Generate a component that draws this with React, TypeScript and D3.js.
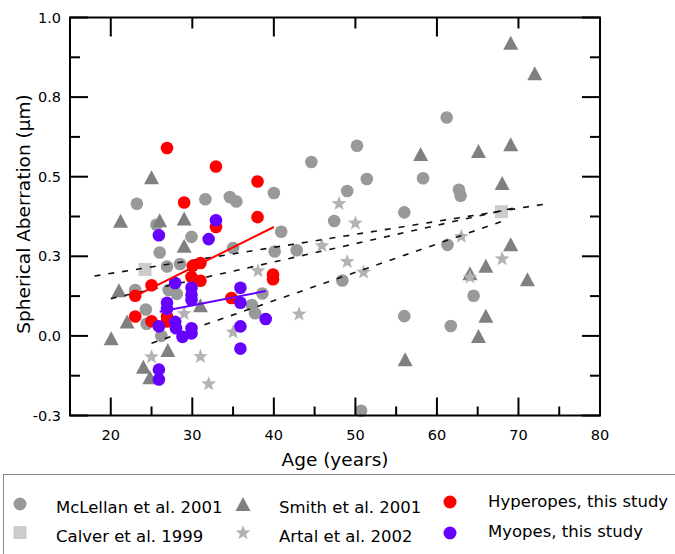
import React from "react";
import * as d3 from "d3";

type Pt = [number, number];

// Age (years), spherical aberration (µm)
const mclellan: Pt[] = [
  [23.2, 0.415], [31.6, 0.429], [34.6, 0.436], [35.4, 0.422], [40.0, 0.449], [44.6, 0.546],
  [50.2, 0.597], [51.4, 0.493], [49.0, 0.455], [58.3, 0.495], [62.7, 0.459], [62.9, 0.44],
  [61.2, 0.686], [56.0, 0.388], [47.4, 0.361], [40.9, 0.327], [40.1, 0.265], [42.8, 0.269],
  [61.3, 0.286], [48.4, 0.174], [38.6, 0.133], [64.5, 0.126], [56.0, 0.062], [61.7, 0.031],
  [50.7, -0.235], [25.6, 0.349], [29.9, 0.311], [26.0, 0.262], [35.0, 0.276], [26.9, 0.218],
  [28.5, 0.226], [23.0, 0.144], [24.3, 0.083], [24.4, 0.038], [26.2, 0.0], [27.1, 0.144],
  [37.3, 0.097], [37.7, 0.071], [28.1, 0.132],
];

const smith: Pt[] = [
  [25.0, 0.498], [21.2, 0.362], [26.0, 0.363], [29.0, 0.369], [29.0, 0.283], [21.0, 0.143],
  [22.0, 0.045], [20.05, -0.007], [27.0, -0.044], [24.0, -0.097], [24.8, -0.13], [31.0, 0.096],
  [69.05, 0.921], [72.0, 0.825], [69.05, 0.602], [65.1, 0.581], [58.0, 0.571], [68.0, 0.48],
  [69.05, 0.288], [66.0, 0.22], [64.05, 0.197], [71.1, 0.178], [66.0, 0.063], [65.1, 0.0],
  [56.1, -0.073],
];

const calver: Pt[] = [[24.2, 0.209], [67.9, 0.39]];

const artal: Pt[] = [
  [25.0, -0.066], [29.0, 0.07], [31.0, -0.065], [32.0, -0.151], [35.0, 0.012], [38.06, 0.204],
  [43.1, 0.068], [45.9, 0.283], [48.0, 0.415], [50.0, 0.354], [49.0, 0.233], [51.0, 0.2],
  [63.0, 0.312], [64.05, 0.184], [68.0, 0.242],
];

const hyperopes: Pt[] = [
  [26.9, 0.59], [32.9, 0.532], [29.0, 0.419], [38.0, 0.485], [38.0, 0.373], [32.9, 0.342],
  [30.05, 0.22], [31.0, 0.229], [29.9, 0.185], [31.0, 0.173], [25.0, 0.159], [23.0, 0.126],
  [23.0, 0.061], [25.0, 0.046], [26.9, 0.061], [26.9, 0.045], [39.9, 0.193], [39.9, 0.178],
  [34.8, 0.119],
];

const myopes: Pt[] = [
  [32.9, 0.363], [25.9, 0.316], [32.0, 0.304], [27.9, 0.166], [29.9, 0.151], [29.9, 0.129],
  [29.9, 0.113], [26.9, 0.104], [26.9, 0.085], [35.9, 0.151], [35.9, 0.104], [25.9, 0.03],
  [27.9, 0.044], [28.0, 0.024], [29.9, 0.024], [29.9, 0.008], [28.8, -0.003], [35.9, 0.03],
  [39.0, 0.053], [35.9, -0.04], [25.9, -0.106], [25.9, -0.137],
];

const hyperFit: Pt[] = [[23, 0.125], [40, 0.342]];
const myopeFit: Pt[] = [[26, 0.076], [39, 0.141]];
const dashedFits: Pt[][] = [
  [[18, 0.188], [73, 0.413]],
  [[20, 0.117], [70, 0.405]],
  [[25, -0.023], [68, 0.36]],
];

const xTicks = [20, 30, 40, 50, 60, 70, 80];
const xMinorTicks = [25, 35, 45, 55, 65, 75];
const xTopLong = [20, 40, 60];
const xTopShort = [30, 50, 70];
const yTickValues = [-0.25, 0, 0.25, 0.5, 0.75, 1.0];
const yTickLabels = ["-0.3", "0.0", "0.3", "0.5", "0.8", "1.0"];
const yMinorTicks = [-0.125, 0.125, 0.375, 0.625, 0.875];

const legendCol1 = ["McLellan et al. 2001", "Calver et al. 1999"];
const legendCol2 = ["Smith et al. 2001", "Artal et al. 2002"];
const legendCol3 = ["Hyperopes, this study", "Myopes, this study"];

const C_MCL = "#999999";
const C_SMITH = "#808080";
const C_CALVER = "#cccccc";
const C_ARTAL = "#b3b3b3";
const C_RED = "#ff0000";
const C_PURPLE = "#6600ff";

const FONT = "'DejaVu Sans', Verdana, sans-serif";

function triPath(w: number, h: number) {
  return `M0,${-h / 2}L${w / 2},${h / 2}L${-w / 2},${h / 2}Z`;
}
function starPath(R: number, r: number) {
  const pts: string[] = [];
  for (let i = 0; i < 10; i++) {
    const a = -Math.PI / 2 + (i * Math.PI) / 5;
    const rad = i % 2 === 0 ? R : r;
    pts.push(`${(rad * Math.cos(a)).toFixed(2)},${(rad * Math.sin(a)).toFixed(2)}`);
  }
  return "M" + pts.join("L") + "Z";
}

export default function App() {
  const x = d3.scaleLinear().domain([15, 80]).range([70, 600]);
  const y = d3.scaleLinear().domain([-0.25, 1.0]).range([415.5, 17.5]);
  const line = d3
    .line<Pt>()
    .x((d) => x(d[0]))
    .y((d) => y(d[1]));
  const L = 70, R = 600, T = 17.5, B = 415.5;
  const tri = triPath(15, 14);
  const star = starPath(7.8, 3.3);

  return (
    <svg
      width={675}
      height={554}
      style={{ position: "absolute", left: 0, top: 0, background: "#fff" }}
      fontFamily={FONT}
    >
      <rect x={0} y={0} width={675} height={554} fill="#fff" />
      {/* gray markers */}
      {mclellan.map((d, i) => (
        <circle key={"m" + i} cx={x(d[0])} cy={y(d[1])} r={6.3} fill={C_MCL} />
      ))}
      {smith.map((d, i) => (
        <path key={"s" + i} d={tri} transform={`translate(${x(d[0])},${y(d[1])})`} fill={C_SMITH} />
      ))}
      {calver.map((d, i) => (
        <rect key={"c" + i} x={x(d[0]) - 6.5} y={y(d[1]) - 6.5} width={13} height={13} fill={C_CALVER} />
      ))}
      {artal.map((d, i) => (
        <path key={"a" + i} d={star} transform={`translate(${x(d[0])},${y(d[1])})`} fill={C_ARTAL} />
      ))}
      {dashedFits.map((f, i) => (
        <path key={"df" + i} d={line(f) || ""} stroke="#111" strokeWidth={1.6} strokeDasharray="6,8" fill="none" />
      ))}
      {hyperopes.map((d, i) => (
        <circle key={"h" + i} cx={x(d[0])} cy={y(d[1])} r={6.3} fill={C_RED} />
      ))}
      {myopes.map((d, i) => (
        <circle key={"p" + i} cx={x(d[0])} cy={y(d[1])} r={6.3} fill={C_PURPLE} />
      ))}
      <path d={line(hyperFit) || ""} stroke={C_RED} strokeWidth={2} fill="none" />
      <path d={line(myopeFit) || ""} stroke={C_PURPLE} strokeWidth={2} fill="none" />

      {/* frame and ticks */}
      <rect x={L} y={T} width={R - L} height={B - T} fill="none" stroke="#000" strokeWidth={2} />
      {xTicks.map((t) => (
        <line key={"xb" + t} x1={x(t)} x2={x(t)} y1={B} y2={B - 18} stroke="#000" strokeWidth={2} />
      ))}
      {xMinorTicks.map((t) => (
        <line key={"xm" + t} x1={x(t)} x2={x(t)} y1={B} y2={B - 9} stroke="#000" strokeWidth={2} />
      ))}
      {xTopLong.map((t) => (
        <line key={"xt" + t} x1={x(t)} x2={x(t)} y1={T} y2={T + 19} stroke="#000" strokeWidth={2} />
      ))}
      {xTopShort.map((t) => (
        <line key={"xs" + t} x1={x(t)} x2={x(t)} y1={T} y2={T + 11} stroke="#000" strokeWidth={2} />
      ))}
      {yTickValues.map((t) => (
        <g key={"y" + t}>
          <line x1={L} x2={L + 18} y1={y(t)} y2={y(t)} stroke="#000" strokeWidth={2} />
          <line x1={R} x2={R - 18} y1={y(t)} y2={y(t)} stroke="#000" strokeWidth={2} />
        </g>
      ))}
      {yMinorTicks.map((t) => (
        <g key={"ym" + t}>
          <line x1={L} x2={L + 10} y1={y(t)} y2={y(t)} stroke="#000" strokeWidth={2} />
          <line x1={R} x2={R - 10} y1={y(t)} y2={y(t)} stroke="#000" strokeWidth={2} />
        </g>
      ))}
      {/* tick labels */}
      {xTicks.map((t) => (
        <text key={"xl" + t} x={x(t)} y={440} textAnchor="middle" fontSize={14.5} fill="#000">
          {t}
        </text>
      ))}
      {yTickValues.map((t, i) => (
        <text key={"yl" + t} x={61} y={y(t) + 5} textAnchor="end" fontSize={14.5} fill="#000">
          {yTickLabels[i]}
        </text>
      ))}
      {/* axis titles */}
      <text x={335} y={466} textAnchor="middle" fontSize={18.5} fill="#000">
        Age (years)
      </text>
      <text
        transform={`translate(29.5,214) rotate(-90)`}
        textAnchor="middle"
        fontSize={18.5}
        fill="#000"
      >
        Spherical Aberration (µm)
      </text>

      {/* legend */}
      <rect x={3.5} y={474.5} width={700} height={120} fill="#fff" stroke="#888" strokeWidth={1} />
      <circle cx={20} cy={504} r={6.5} fill={C_MCL} />
      <rect x={13.5} y={526} width={13} height={13} fill={C_CALVER} />
      <path d={tri} transform="translate(243,504)" fill={C_SMITH} />
      <path d={star} transform="translate(243,533)" fill={C_ARTAL} />
      <circle cx={450} cy={502} r={6.5} fill={C_RED} />
      <circle cx={450} cy={533} r={6.5} fill={C_PURPLE} />
      {legendCol1.map((s, i) => (
        <text key={"l1" + i} x={56} y={513 + i * 29} fontSize={16.5} fill="#000">
          {s}
        </text>
      ))}
      {legendCol2.map((s, i) => (
        <text key={"l2" + i} x={279} y={513 + i * 29} fontSize={16.5} fill="#000">
          {s}
        </text>
      ))}
      {legendCol3.map((s, i) => (
        <text key={"l3" + i} x={488} y={507 + i * 30} fontSize={16.5} fill="#000">
          {s}
        </text>
      ))}
    </svg>
  );
}
